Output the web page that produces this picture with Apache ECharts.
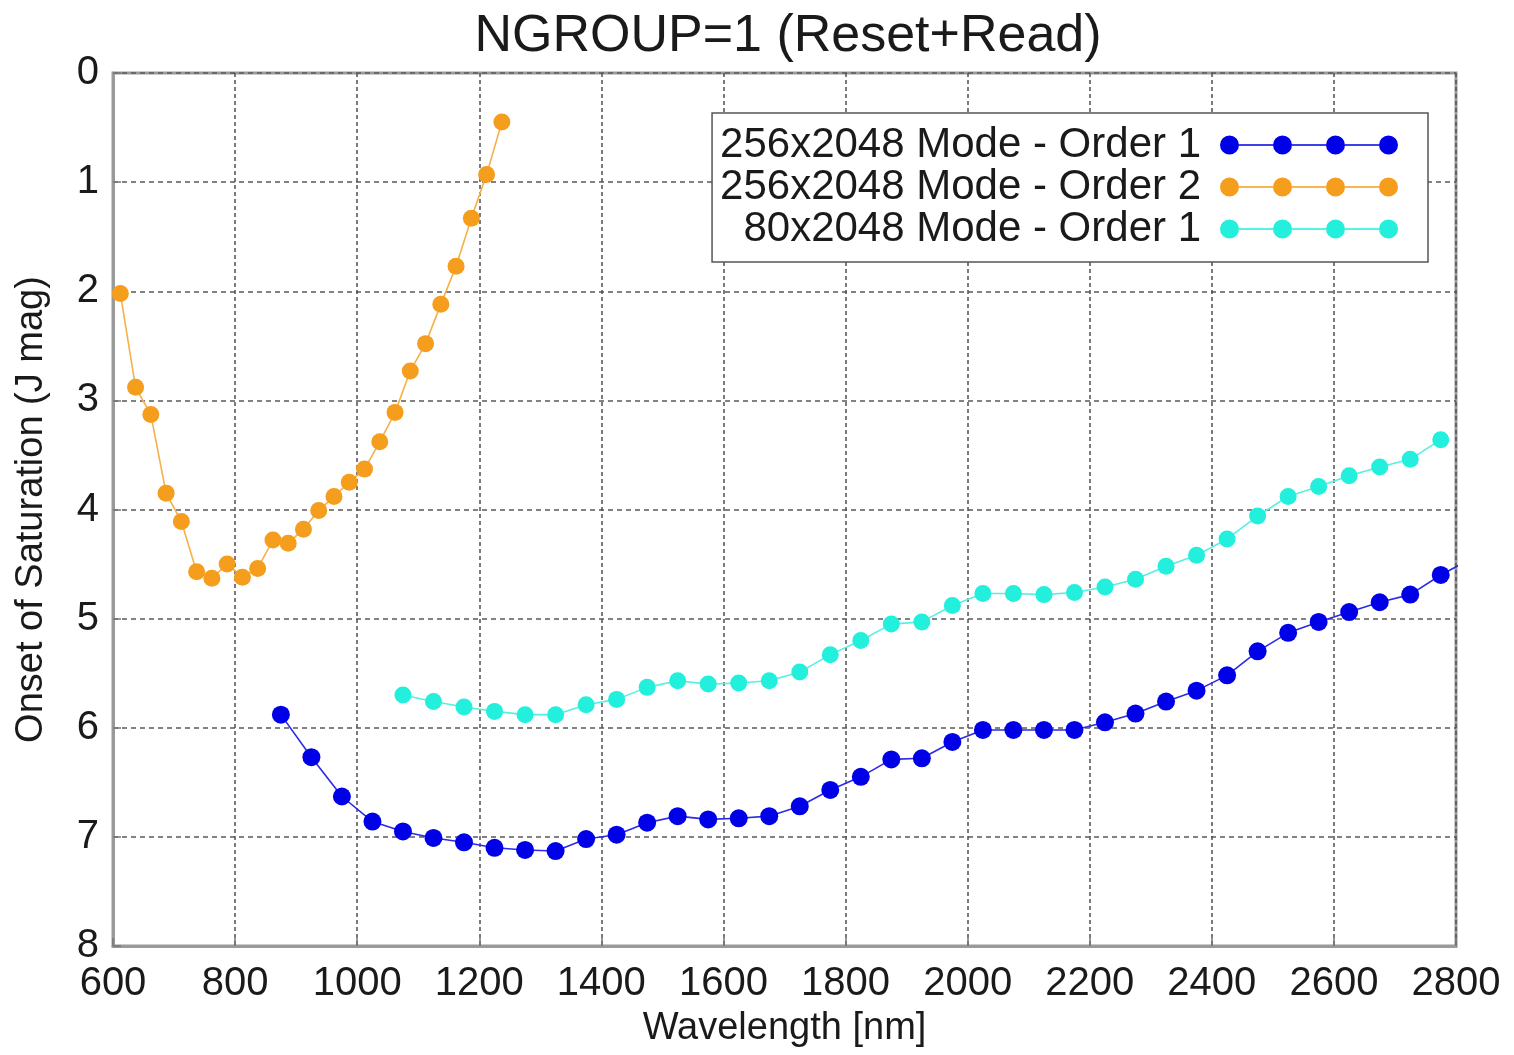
<!DOCTYPE html>
<html>
<head>
<meta charset="utf-8">
<script src="https://cdn.jsdelivr.net/npm/echarts@6/dist/echarts.min.js"></script>
<style>html,body{margin:0;padding:0;background:#fff;}#c{width:1514px;height:1055px;}</style>
</head>
<body>
<div id="c"></div>
<script>
// Data (wavelength in nm, onset of saturation in J mag)
const titleText = 'NGROUP=1 (Reset+Read)';
const seriesNames = ['256x2048 Mode - Order 1', '256x2048 Mode - Order 2', '80x2048 Mode - Order 1'];

const order1Wl = [875, 925, 975, 1025, 1075, 1125, 1175, 1225, 1275, 1325, 1375, 1425, 1475, 1525, 1575, 1625, 1675, 1725, 1775, 1825, 1875, 1925, 1975, 2025, 2075, 2125, 2175, 2225, 2275, 2325, 2375, 2425, 2475, 2525, 2575, 2625, 2675, 2725, 2775, 2825];
const order1Mag = [5.88, 6.27, 6.63, 6.86, 6.95, 7.01, 7.05, 7.10, 7.12, 7.13, 7.02, 6.98, 6.87, 6.81, 6.84, 6.83, 6.81, 6.72, 6.57, 6.45, 6.29, 6.28, 6.13, 6.02, 6.02, 6.02, 6.02, 5.95, 5.87, 5.76, 5.66, 5.52, 5.30, 5.13, 5.03, 4.94, 4.85, 4.78, 4.60, 4.45];

const order2Wl = [612, 637, 662, 687, 712, 737, 762, 787, 812, 837, 862, 887, 912, 937, 962, 987, 1012, 1037, 1062, 1087, 1112, 1137, 1162, 1187, 1212, 1237];
const order2Mag = [2.02, 2.88, 3.13, 3.85, 4.11, 4.57, 4.63, 4.50, 4.62, 4.54, 4.28, 4.31, 4.18, 4.01, 3.88, 3.75, 3.63, 3.38, 3.11, 2.73, 2.48, 2.12, 1.77, 1.33, 0.93, 0.45];

const mode80Wl = [1075, 1125, 1175, 1225, 1275, 1325, 1375, 1425, 1475, 1525, 1575, 1625, 1675, 1725, 1775, 1825, 1875, 1925, 1975, 2025, 2075, 2125, 2175, 2225, 2275, 2325, 2375, 2425, 2475, 2525, 2575, 2625, 2675, 2725, 2775];
const mode80Mag = [5.70, 5.76, 5.81, 5.85, 5.88, 5.88, 5.79, 5.74, 5.63, 5.57, 5.60, 5.59, 5.57, 5.49, 5.33, 5.20, 5.05, 5.03, 4.88, 4.77, 4.77, 4.78, 4.76, 4.71, 4.64, 4.52, 4.42, 4.27, 4.06, 3.88, 3.79, 3.69, 3.61, 3.54, 3.36];

const xName = 'Wavelength [nm]';
const yName = 'Onset of Saturation (J mag)';

function pairs(xs, ys) { return xs.map((x, i) => [x, ys[i]]); }

// legend icon: four dots joined by a line
function iconPath() {
  const r = 9.5, cs = [9.5, 62.5, 115.5, 168.5];
  let p = '';
  cs.forEach(c => {
    p += `M${c - r},${r} A${r},${r} 0 1,1 ${c + r},${r} A${r},${r} 0 1,1 ${c - r},${r} Z `;
  });
  for (let i = 0; i < cs.length - 1; i++) {
    p += `M${cs[i] + r},${r - 0.8} L${cs[i + 1] - r},${r - 0.8} L${cs[i + 1] - r},${r + 0.8} L${cs[i] + r},${r + 0.8} Z `;
  }
  return 'path://' + p;
}

const font = 'Liberation Sans, Arial, Helvetica, sans-serif';
const chart = echarts.init(document.getElementById('c'));
const mk = (name, data, color, lineColor, size) => ({
  name, type: 'line', data, symbol: 'circle', symbolSize: size, showSymbol: true,
  clip: true, itemStyle: { color }, lineStyle: { color: lineColor, width: 1.6 },
  emphasis: { disabled: true }, animation: false
});
chart.setOption({
  backgroundColor: '#fff',
  animation: false,
  title: {
    text: titleText, left: 783, top: 6, textAlign: 'center',
    textStyle: { fontFamily: font, fontSize: 52, fontWeight: 'normal', color: '#1a1a1a' }
  },
  grid: { left: 113, right: 58, top: 73, bottom: 109, show: true, borderColor: '#9a9a9a', borderWidth: 3, backgroundColor: '#fff' },
  legend: {
    orient: 'vertical', right: 86, top: 113, align: 'right',
    backgroundColor: '#fff', borderColor: '#555', borderWidth: 1.5, borderRadius: 0,
    padding: [11, 30, 12, 8], itemGap: 0,
    itemWidth: 178, itemHeight: 19, icon: iconPath(),
    textStyle: { fontFamily: font, fontSize: 42, color: '#1a1a1a', lineHeight: 38, padding: [0, 14, 0, 0] },
    data: seriesNames, selectedMode: false
  },
  xAxis: {
    type: 'value', min: 600, max: 2800, interval: 200, position: 'bottom',
    name: xName, nameLocation: 'middle', nameGap: 64,
    nameTextStyle: { fontFamily: font, fontSize: 38, color: '#1a1a1a' },
    axisLine: { show: true, onZero: false, lineStyle: { color: '#9a9a9a', width: 3 } },
    axisTick: { show: true, inside: true, length: 8, lineStyle: { color: '#777', width: 1.5 } },
    axisLabel: { fontFamily: font, fontSize: 40, color: '#1a1a1a', margin: 18, formatter: v => String(v) },
    splitLine: { show: true, lineStyle: { color: '#505050', width: 1.5, type: [4, 3] } }
  },
  yAxis: {
    type: 'value', min: 0, max: 8, interval: 1, inverse: true,
    name: yName, nameLocation: 'middle', nameGap: 62,
    nameTextStyle: { fontFamily: font, fontSize: 38, color: '#1a1a1a' },
    axisLine: { show: true, lineStyle: { color: '#9a9a9a', width: 3 } },
    axisTick: { show: true, inside: true, length: 8, lineStyle: { color: '#777', width: 1.5 } },
    axisLabel: { fontFamily: font, fontSize: 40, color: '#1a1a1a', margin: 14, formatter: v => String(v) },
    splitLine: { show: true, lineStyle: { color: '#5a5a5a', width: 1.5, type: [5, 4] } }
  },
  series: [
    mk(seriesNames[0], pairs(order1Wl, order1Mag), '#0000e8', '#2a2ae8', 18),
    mk(seriesNames[1], pairs(order2Wl, order2Mag), '#f59d1c', '#f5b04a', 17),
    mk(seriesNames[2], pairs(mode80Wl, mode80Mag), '#22efdc', '#55f0e0', 17)
  ]
});
</script>
</body>
</html>
